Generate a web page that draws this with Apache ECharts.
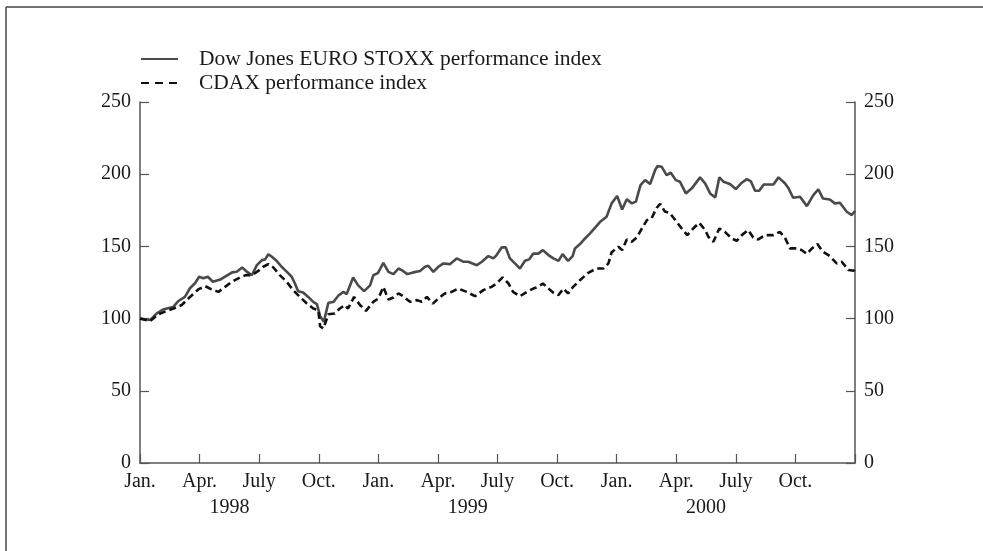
<!DOCTYPE html>
<html>
<head>
<meta charset="utf-8">
<script src="https://cdn.jsdelivr.net/npm/echarts@6/dist/echarts.min.js"></script>
<style>
  html, body { margin: 0; padding: 0; background: #fff; }
  #chart { width: 983px; height: 551px; }
</style>
</head>
<body>
<div id="chart"></div>
<script>
// x values are weeks since the start of January 1998 (156 weeks = 3 years)
const quarterLabels = ['Jan.', 'Apr.', 'July', 'Oct.'];
const yearLabels = ['1998', '1999', '2000'];

const euroWeeks = [0, 2.2, 3.6, 5.0, 7.2, 8.3, 9.8, 10.9, 12.0, 12.9, 13.8, 14.8, 15.9, 17.5, 20.1, 21.1, 22.3, 23.3, 24.4, 25.5,
  26.6, 27.3, 28.0, 28.7, 29.8, 30.9, 32.0, 33.1, 33.8, 34.5, 35.6, 36.7, 37.8, 38.6, 39.3, 40.1, 41.1, 42.2, 43.3, 44.4,
  45.1, 46.5, 47.6, 48.9, 50.2, 50.9, 51.9, 53.1, 54.2, 55.3, 56.4, 57.4, 58.3, 59.6, 61.1, 62.2, 62.9, 64.0, 65.1, 66.2,
  67.6, 69.1, 70.5, 71.6, 72.0, 73.5, 74.6, 76.0, 77.1, 77.8, 78.9, 79.8, 80.7, 81.8, 82.9, 84.0, 84.9, 85.8, 86.9, 87.9,
  89.1, 90.2, 91.3, 92.2, 93.4, 94.4, 94.9, 96.0, 97.1, 98.2, 99.3, 100.4, 101.8, 102.9, 104.1, 105.2, 106.2, 107.3, 108.2, 109.2,
  110.2, 111.3, 112.4, 112.9, 113.8, 114.9, 115.8, 116.9, 117.8, 119.1, 120.4, 122.2, 123.3, 124.4, 125.5, 126.4, 127.3, 128.7, 130.0, 131.3,
  132.4, 133.3, 134.2, 135.1, 136.1, 138.2, 139.3, 140.7, 141.5, 142.5, 144.0, 145.5, 146.9, 148.0, 149.0, 150.5, 151.6, 152.7, 154.2, 155.3, 156];
const euroValues = [100, 99, 103.5, 106.3, 108, 112, 115, 121, 124.5, 129, 128, 129, 125.5, 127, 132, 132.5, 135.4, 132.5, 130, 137,
  140.5, 141, 144.6, 143, 140, 135.9, 132.5, 129, 124.3, 119, 118, 115, 111.6, 110, 101.7, 97.7, 111, 111.5, 116, 118.5,
  117, 128.5, 123, 119, 123, 130, 131.5, 138.6, 132.4, 130.8, 134.7, 133, 130.8, 132, 133, 135.9, 136.6, 132.4, 135.9, 138.2,
  137.7, 141.7, 139.4, 139.4, 140.5, 137, 139.4, 143.3, 141.7, 144, 149.3, 149.3, 141.7, 138.2, 134.7, 140, 141, 145, 145, 147.4,
  144, 141.7, 140, 144.6, 140, 143.3, 148.6, 151.6, 155.5, 159, 163, 167, 170.5, 179.8, 184.9, 175.6, 182.6, 179.8, 181, 192.5,
  195.9, 193.2, 202.9, 205.6, 205.2, 199.4, 201, 195.9, 194.8, 186.7, 190.2, 197.8, 193.7, 186.7, 183.9, 197.8, 194.8, 193.2, 189.7, 194.1,
  196.6, 195, 188.5, 188.5, 192.9, 192.9, 197.8, 193.7, 190.2, 183.7, 184.4, 177.9, 185.5, 189.5, 183.2, 182.5, 179.8, 180.2, 174, 171.7, 174.5];

const cdaxWeeks = [0, 2.2, 4.0, 5.8, 7.3, 9.1, 10.9, 12.7, 14.2, 15.6, 17.1, 18.5, 20.0, 21.8, 23.1, 24.4, 25.8, 26.9, 28.0, 29.1,
  30.5, 32.0, 33.4, 34.9, 36.4, 37.8, 38.9, 39.3, 40.0, 41.1, 42.5, 43.6, 44.7, 45.4, 46.7, 48.0, 49.3, 50.9, 52.0, 53.1,
  54.2, 55.3, 56.4, 57.4, 58.9, 60.4, 61.5, 62.6, 63.9, 65.1, 66.5, 68.0, 69.4, 71.3, 73.1, 74.9, 76.7, 77.8, 79.1, 80.4,
  81.4, 82.9, 84.4, 85.8, 86.9, 87.9, 89.1, 90.2, 91.3, 92.4, 93.4, 94.5, 96.0, 97.8, 99.6, 101.1, 102.2, 102.9, 104.4, 105.2,
  106.2, 107.3, 108.4, 109.5, 110.6, 111.6, 112.7, 113.5, 114.5, 115.6, 116.9, 118.2, 119.4, 120.7, 122.0, 123.3, 124.0, 125.1, 126.4, 127.6,
  129.1, 130.2, 131.3, 132.7, 133.8, 134.9, 136.4, 138.2, 139.6, 140.7, 141.8, 143.3, 144.4, 145.5, 146.6, 147.8, 149.0, 150.5, 152.0, 153.1,
  154.6, 155.7, 156];
const cdaxValues = [100, 98.2, 103, 105.3, 107, 109.4, 115, 120.2, 122.5, 120.2, 118.5, 121.8, 125.5, 128.5, 130.1, 130.1, 133, 135.9, 137.7, 135.4,
  130.1, 125.5, 119.7, 115, 110.5, 107, 105.8, 94.7, 93.1, 103, 103.5, 107, 109.4, 107, 115, 109.4, 105.4, 111.6, 113.9, 122,
  113.2, 114.6, 117.4, 115.5, 111.6, 112.8, 111.6, 115, 110.4, 113.9, 117.4, 118.5, 120.8, 118.5, 115.5, 119.7, 122, 124.3, 128.5, 124.3,
  118.5, 115.5, 118.5, 120.8, 122, 124.3, 120.8, 117.9, 116.3, 120.8, 117.4, 122, 126.6, 131.7, 134.7, 134.7, 138.2, 146, 149.7, 147.4,
  154.8, 153.2, 156.2, 162.4, 168.2, 169.3, 176.6, 179.5, 174.2, 173.1, 167.7, 162.4, 157.8, 162.4, 166.4, 161.3, 156.7, 153.2, 162.4, 160.1,
  155.5, 153.9, 157.8, 161.3, 156.2, 154.8, 157.8, 157.8, 160.1, 156.2, 148.6, 148.6, 147.4, 144.7, 148.6, 151.6, 146.3, 143.3, 138.2, 139.4,
  133.6, 133.1, 134.7];

function pairs(xs, ys) {
    return xs.map((x, i) => [x, ys[i]]);
}

const font = 'Liberation Serif, Times New Roman, serif';
const axisColor = '#555';
const textColor = '#1a1a1a';

const myChart = echarts.init(document.getElementById('chart'));
let option = {
    backgroundColor: '#fff',
    animation: false,
    textStyle: { fontFamily: font },
    grid: { left: 140, right: 128, top: 102, bottom: 88 },
    legend: {
        orient: 'vertical',
        left: 135,
        top: 43,
        itemWidth: 37,
        itemHeight: 14,
        itemGap: 2,
        // hide the symbol that line series draw in the middle of the legend line
        itemStyle: { color: 'rgba(0,0,0,0)', borderColor: 'rgba(0,0,0,0)', borderWidth: 0 },
        textStyle: { fontFamily: font, fontSize: 21.5, color: textColor, padding: [0, 0, 0, 16] },
        data: [
            { name: 'Dow Jones EURO STOXX performance index' },
            { name: 'CDAX performance index', lineStyle: { type: [8, 6] } }
        ]
    },
    xAxis: [{
        type: 'value',
        min: 0,
        max: 156,
        interval: 13,
        axisLine: { onZero: false, lineStyle: { color: axisColor, width: 1.5 } },
        axisTick: { inside: true, length: 9, lineStyle: { color: axisColor, width: 1.2 } },
        splitLine: { show: false },
        axisLabel: {
            margin: 9,
            fontFamily: font,
            fontSize: 20,
            color: textColor,
            formatter: function (v) {
                if (v >= 156) return '';
                return quarterLabels[Math.round(v / 13) % 4];
            }
        }
    }, {
        type: 'value',
        position: 'bottom',
        min: 0,
        max: 156,
        interval: 6.5,
        axisLine: { show: false, onZero: false },
        axisTick: { show: false },
        splitLine: { show: false },
        axisLabel: {
            margin: 35,
            fontFamily: font,
            fontSize: 20,
            color: textColor,
            showMinLabel: false,
            showMaxLabel: false,
            formatter: function (v) {
                let k = (v - 19.5) / 52;
                if (Math.abs(k - Math.round(k)) < 1e-6) return yearLabels[Math.round(k)];
                return '';
            }
        }
    }],
    yAxis: [0, 1].map(i => ({
        type: 'value',
        position: i === 0 ? 'left' : 'right',
        min: 0,
        max: 250,
        interval: 50,
        axisLine: { show: true, onZero: false, lineStyle: { color: axisColor, width: 1.5 } },
        axisTick: { show: true, inside: true, length: 9, lineStyle: { color: axisColor, width: 1.2 } },
        splitLine: { show: false },
        axisLabel: { margin: 9, fontFamily: font, fontSize: 20, color: textColor }
    })),
    series: [{
        name: 'Dow Jones EURO STOXX performance index',
        type: 'line',
        symbol: 'none',
        data: pairs(euroWeeks, euroValues),
        lineStyle: { color: '#4a4a4a', width: 2.6 },
        itemStyle: { color: '#4a4a4a' }
    }, {
        name: 'CDAX performance index',
        type: 'line',
        symbol: 'none',
        data: pairs(cdaxWeeks, cdaxValues),
        lineStyle: { color: '#111', width: 2.6, type: [7, 4] },
        itemStyle: { color: '#111' }
    }],
    // frame lines at top and left of the figure
    graphic: [{
        type: 'line',
        shape: { x1: 6, y1: 7, x2: 983, y2: 7 },
        style: { stroke: '#444', lineWidth: 1.5 }
    }, {
        type: 'line',
        shape: { x1: 6, y1: 7, x2: 6, y2: 551 },
        style: { stroke: '#444', lineWidth: 1.5 }
    }]
};
option && myChart.setOption(option);
</script>
</body>
</html>
